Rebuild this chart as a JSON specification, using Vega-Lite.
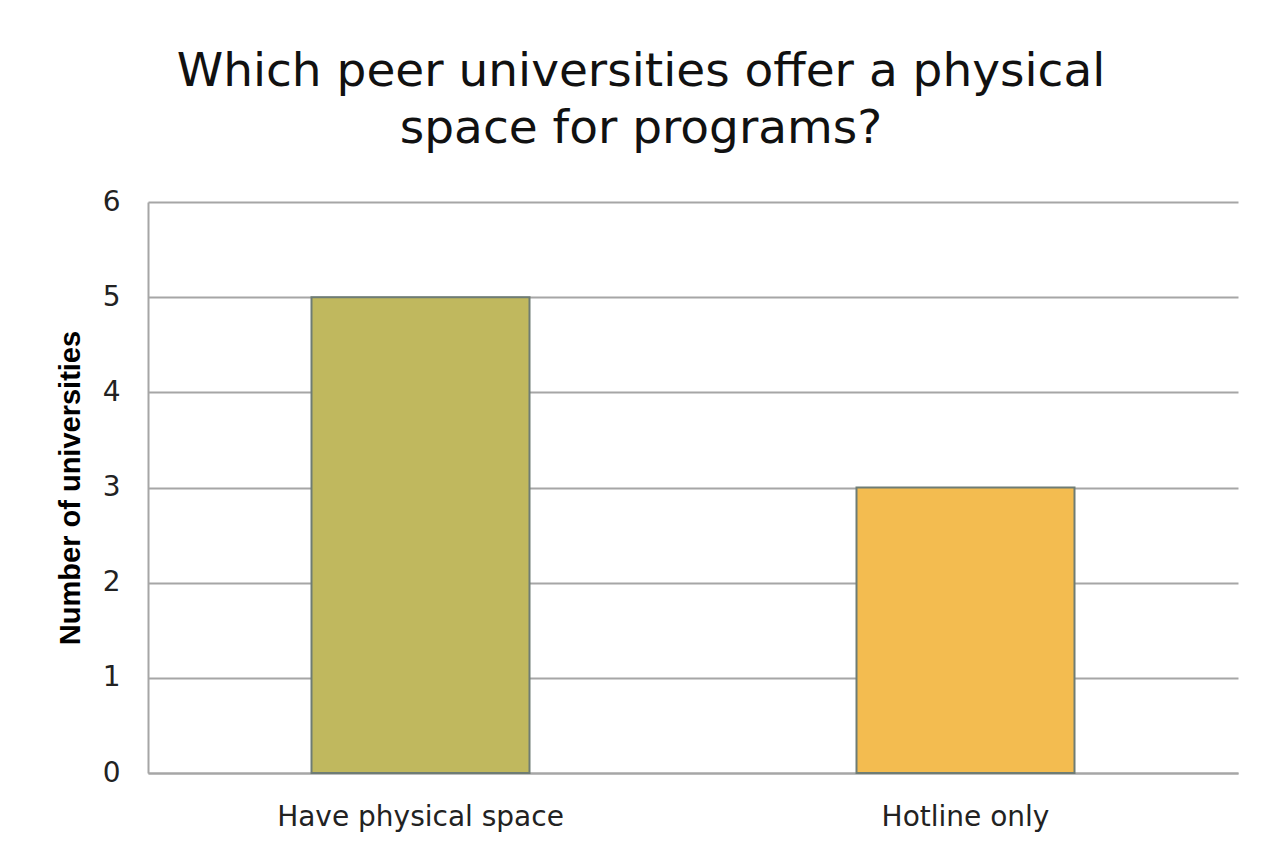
{
  "$schema": "https://vega.github.io/schema/vega-lite/v6.json",
  "autosize": "none",
  "width": 1090,
  "height": 571,
  "padding": {"left": 148, "top": 202, "right": 36, "bottom": 77},
  "background": "white",
  "title": {
    "text": ["Which peer universities offer a physical", "space for programs?"],
    "font": "DejaVu Sans",
    "fontSize": 47,
    "fontWeight": "normal",
    "color": "#111111",
    "anchor": "middle",
    "dx": -52,
    "offset": 35,
    "lineHeight": 57
  },
  "data": {
    "values": [
      {"category": "Have physical space", "count": 5},
      {"category": "Hotline only", "count": 3}
    ]
  },
  "mark": {"type": "bar", "stroke": "#6e7c74", "strokeWidth": 2},
  "encoding": {
    "x": {
      "field": "category",
      "type": "nominal",
      "sort": null,
      "scale": {"paddingInner": 0.6, "paddingOuter": 0.3},
      "axis": {
        "title": null,
        "labelAngle": 0,
        "labelFont": "DejaVu Sans",
        "labelFontSize": 28,
        "labelColor": "#222222",
        "labelPadding": 30,
        "labelLimit": 0,
        "ticks": false,
        "domainColor": "#a6a6a6",
        "domainWidth": 2
      }
    },
    "y": {
      "field": "count",
      "type": "quantitative",
      "scale": {"domain": [0, 6]},
      "axis": {
        "title": "Number of universities",
        "titleFont": "Liberation Sans",
        "titleFontSize": 29,
        "titleFontWeight": "bold",
        "titleColor": "#000000",
        "titlePadding": 17,
        "values": [0, 1, 2, 3, 4, 5, 6],
        "labelOverlap": false,
        "labelFont": "DejaVu Sans",
        "labelFontSize": 28,
        "labelColor": "#222222",
        "labelPadding": 28,
        "ticks": false,
        "domainColor": "#a6a6a6",
        "domainWidth": 2,
        "grid": true,
        "gridColor": "#a6a6a6",
        "gridWidth": 2
      }
    },
    "color": {
      "field": "category",
      "type": "nominal",
      "scale": {"domain": ["Have physical space", "Hotline only"], "range": ["#c0b85e", "#f3bc50"]},
      "legend": null
    }
  },
  "config": {"view": {"stroke": null}}
}
